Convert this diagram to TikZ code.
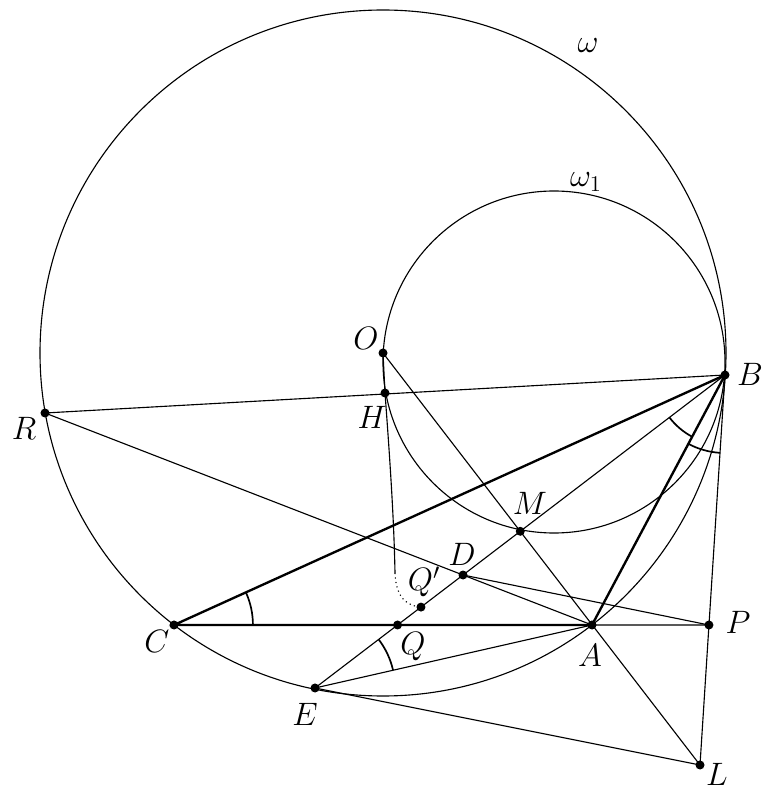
\documentclass[tikz,border=0pt]{standalone}
\usetikzlibrary{angles,calc}
\begin{document}
\begin{tikzpicture}[x=0.5333pt,y=0.5333pt,
  thinline/.style={line width=0.6pt},
  thickline/.style={line width=1.25pt},
  dot/.style={circle,fill=black,inner sep=0pt,minimum size=4.8pt},
  lbl/.style={font=\fontsize{17.28}{20}\selectfont, inner sep=0pt},
  angmark/.style={draw,line width=0.9pt}]
\useasboundingbox (0,0) rectangle (774,795);
% main points
\coordinate (O) at (383,442);
\coordinate (W) at (554,433);
\coordinate (B) at (725,420);
\coordinate (H) at (385,402);
\coordinate (R) at (45,382);
\coordinate (C) at (174,170);
\coordinate (A) at (592,170);
\coordinate (L) at (700,30);
\coordinate (E) at (315,107);
\coordinate (P) at (intersection of B--L and C--A);
\coordinate (Q) at (intersection of B--E and C--A);
\coordinate (D) at (intersection of B--E and R--A);
\coordinate (M) at (intersection of B--E and O--L);
\coordinate (Qp) at ($(B)!0.7415!(E)$);
\coordinate (S) at (395,222);
% circles
\draw[thinline] (O) circle[radius=343];
\draw[thinline] (W) circle[radius=171];
% thick triangle
\draw[thickline] (C) -- (B) -- (A) -- cycle;
% thin lines
\draw[thinline] (A) -- (P);
\draw[thinline] (R) -- (B);
\draw[thinline] (R) -- (A);
\draw[thinline] (D) -- (P);
\draw[thinline] (O) -- (L);
\draw[thinline] (B) -- (E);
\draw[thinline] (E) -- (A);
\draw[thinline] (E) -- (L);
\draw[thinline] (B) -- (L);
\draw[thinline] (O) -- (H);
\draw[thinline] (H) .. controls (390,335) and (394,275) .. (S);
\draw[thinline,dash pattern=on 0.6pt off 1.8pt] (S) .. controls (396,196) and (408,189) .. (Qp);
% angle marks
\pic[angmark, angle radius=42.1pt] {angle = A--C--B};
\pic[angmark, angle radius=42.7pt] {angle = A--E--B};
\pic[angmark, angle radius=37.3pt] {angle = E--B--A};
\pic[angmark, angle radius=41.6pt] {angle = A--B--L};
% dots
\foreach \p in {O,B,H,R,C,A,P,L,E,Q,D,M,Qp}
  \node[dot] (d\p) at (\p) {};
% labels
\node[lbl] (lO) at (366,457) {$O$};
\node[lbl] (lH) at (372,378) {$H$};
\node[lbl] (lB) at (750,421) {$B$};
\node[lbl] (lR) at (24,367) {$R$};
\node[lbl] (lM) at (530,292) {$M$};
\node[lbl] (lD) at (462,241) {$D$};
\node[lbl] (lQp) at (424,213) {$Q'$};
\node[lbl] (lQ) at (413,148) {$Q$};
\node[lbl] (lC) at (157,154) {$C$};
\node[lbl] (lE) at (305,81) {$E$};
\node[lbl] (lA) at (590,140) {$A$};
\node[lbl] (lP) at (738,173) {$P$};
\node[lbl] (lL) at (717,21) {$L$};
\node[lbl] (lw) at (588,749) {$\omega$};
\node[lbl] (lw1) at (586,613) {$\omega_1$};
\end{tikzpicture}
\end{document}
